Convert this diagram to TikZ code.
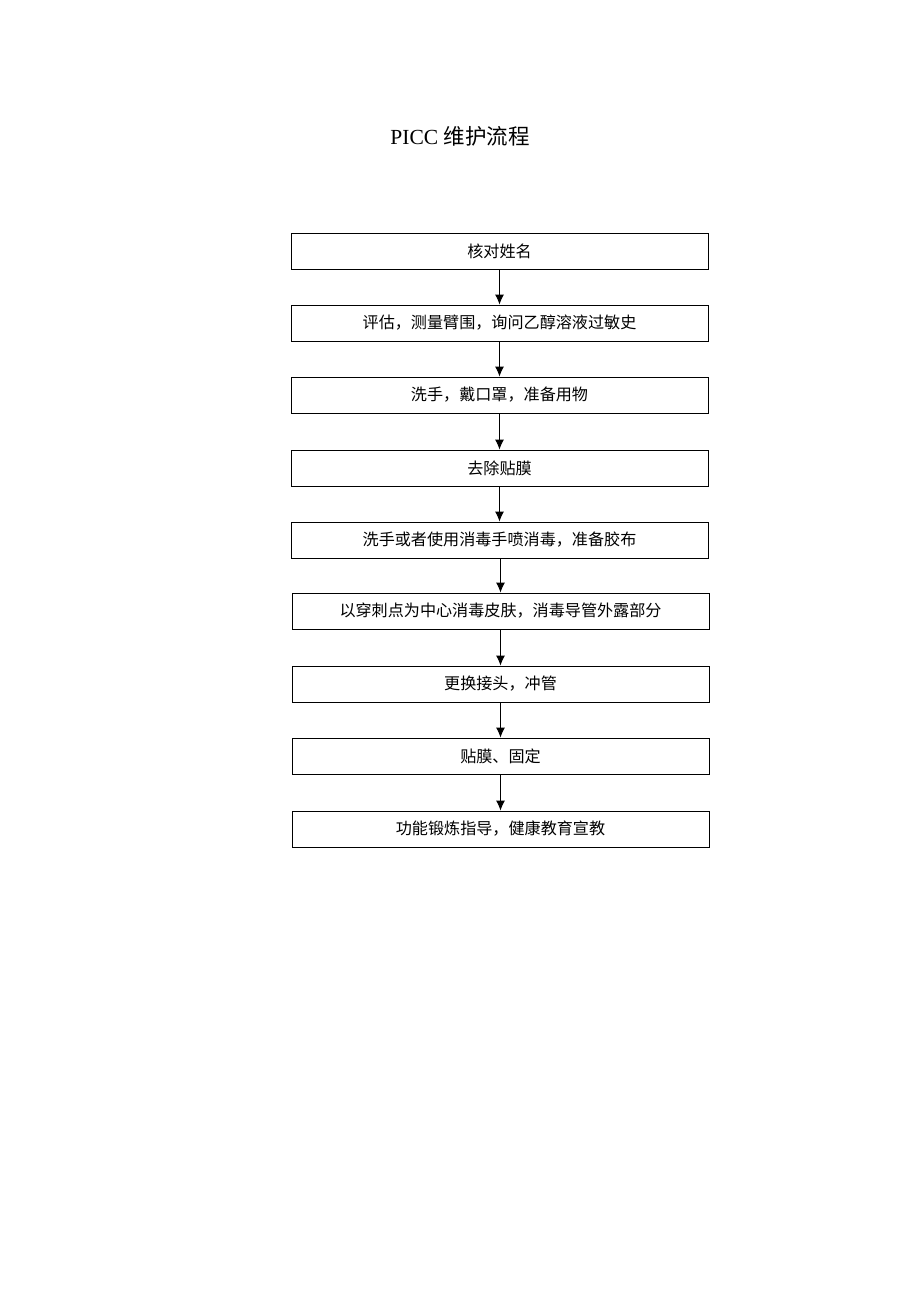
\documentclass[tikz,border=0pt]{standalone}
\usepackage{fontspec}
\setmainfont{Liberation Serif}
\newfontfamily\cjk{Noto Sans CJK SC}
\usetikzlibrary{arrows.meta}
\begin{document}
\begin{tikzpicture}[x=1pt,y=-1pt,
  stepbox/.style={draw=black,line width=0.9pt,minimum width=417pt,minimum height=36pt,inner sep=0pt,
    font=\cjk\fontsize{16.1}{19}\selectfont},
  flow/.style={line width=0.9pt,-{Latex[length=10pt,width=9pt]}}]
\useasboundingbox (0,0) rectangle (920,1302);
\node (title) at (460,136) {\fontsize{21.5}{26}\selectfont PICC {\cjk 维护流程}};
\node[stepbox] (b1) at (499.5,251) {核对姓名};
\node[stepbox] (b2) at (499.5,323) {评估，测量臂围，询问乙醇溶液过敏史};
\node[stepbox] (b3) at (499.5,395) {洗手，戴口罩，准备用物};
\node[stepbox] (b4) at (499.5,468) {去除贴膜};
\node[stepbox] (b5) at (499.5,540) {洗手或者使用消毒手喷消毒，准备胶布};
\node[stepbox] (b6) at (500.5,611) {以穿刺点为中心消毒皮肤，消毒导管外露部分};
\node[stepbox] (b7) at (500.5,684) {更换接头，冲管};
\node[stepbox] (b8) at (500.5,756) {贴膜、固定};
\node[stepbox] (b9) at (500.5,829) {功能锻炼指导，健康教育宣教};
\foreach \a/\b in {b1/b2,b2/b3,b3/b4,b4/b5,b5/b6,b6/b7,b7/b8,b8/b9}
  \draw[flow] (\b.north |- \a.south) -- (\b.north);
\end{tikzpicture}
\end{document}
